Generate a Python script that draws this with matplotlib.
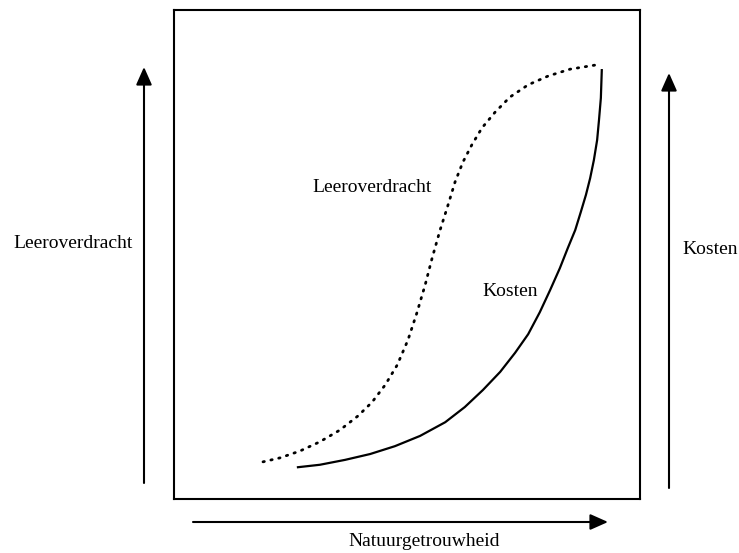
import matplotlib
matplotlib.use("Agg")
import matplotlib.pyplot as plt
from matplotlib.patches import FancyArrowPatch

# curves, in units of the box (0-100 on both axes)
leer_x = [19.1, 22.7, 27.0, 31.3, 35.6, 39.5, 42.5, 45.3, 47.9, 50.2, 52.1, 53.9, 55.4,
          57.1, 58.8, 60.3, 62.0, 63.9, 66.1, 68.9, 72.1, 76.0, 80.3, 85.0, 90.8]
leer_y = [7.6, 8.4, 9.8, 11.7, 14.1, 17.0, 19.8, 23.3, 27.4, 32.5, 38.0, 43.8, 49.3,
          55.0, 60.1, 64.8, 68.9, 72.4, 75.9, 79.1, 82.2, 84.7, 86.5, 87.9, 88.8]

kosten_x = [26.6, 31.3, 36.7, 42.1, 47.4, 52.8, 58.2, 62.4, 66.3, 70.0, 73.2, 76.0, 78.5,
            80.7, 82.8, 84.5, 86.1, 87.3, 88.4, 89.3, 90.1, 90.8, 91.2, 91.6, 91.8]
kosten_y = [6.5, 7.0, 8.0, 9.2, 10.8, 12.9, 15.7, 18.8, 22.3, 26.0, 29.9, 33.7, 38.2,
            42.7, 47.2, 51.3, 55.0, 58.7, 62.2, 65.6, 69.3, 73.4, 77.5, 82.0, 87.7]

curve_labels = ["Leeroverdracht", "Kosten"]
axis_labels = ["Leeroverdracht", "Kosten", "Natuurgetrouwheid"]

W, H = 739, 553
plt.rcParams['font.family'] = ['Liberation Serif', 'DejaVu Serif']

fig = plt.figure(figsize=(W / 100, H / 100), dpi=100)

def fx(px):
    return px / W

def fy(py):
    return 1 - py / H

# box in pixel terms: x 174..640, y 10..499
ax = fig.add_axes([fx(174), fy(499), (640 - 174) / W, (499 - 10) / H])
ax.set_xlim(0, 100)
ax.set_ylim(0, 100)
ax.set_xticks([])
ax.set_yticks([])
for s in ax.spines.values():
    s.set_linewidth(1.5)

ax.plot(leer_x, leer_y, color='black', lw=2, linestyle=(0, (0.5, 2.4)),
        dash_capstyle='round')
ax.plot(kosten_x, kosten_y, color='black', lw=1.6)

ax.text(42.5, 63.6, curve_labels[0], fontsize=14, ha='center', va='center')
ax.text(72.1, 42.5, curve_labels[1], fontsize=14, ha='center', va='center')

# axis arrows outside the box
def arrow(x0, y0, x1, y1):
    a = FancyArrowPatch((fx(x0), fy(y0)), (fx(x1), fy(y1)), transform=fig.transFigure,
                        arrowstyle='-|>,head_length=0.9,head_width=0.4', mutation_scale=12,
                        color='black', lw=1.5, shrinkA=0, shrinkB=0)
    fig.add_artist(a)

arrow(144, 483, 144, 67)
arrow(669, 488, 669, 73)
arrow(193, 522, 608, 522)

fig.text(fx(73), fy(244), axis_labels[0], fontsize=14, ha='center', va='center')
fig.text(fx(710), fy(250), axis_labels[1], fontsize=14, ha='center', va='center')
fig.text(fx(424), fy(542), axis_labels[2], fontsize=14, ha='center', va='center')

fig.savefig("out.png", dpi=100)
